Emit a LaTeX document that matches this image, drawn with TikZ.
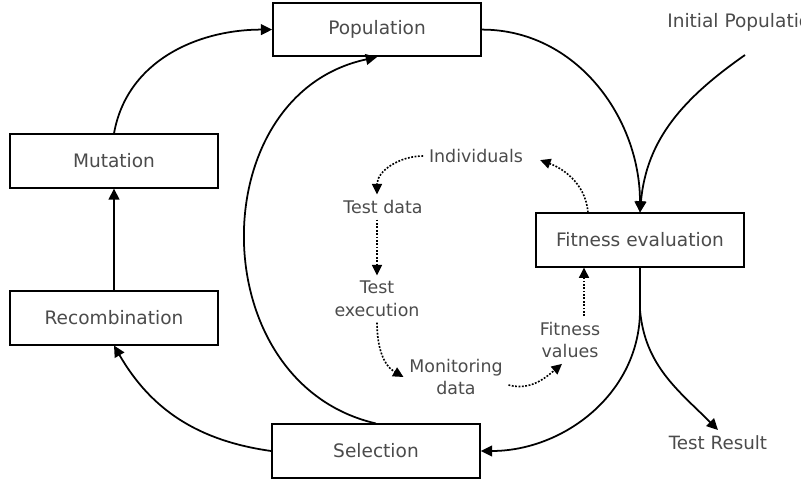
\documentclass[tikz,border=0pt]{standalone}
\usepackage{fontspec}
\setmainfont{DejaVu Sans}
\usetikzlibrary{positioning,arrows.meta}
\definecolor{gaText}{RGB}{75,75,75}

\begin{document}
\begin{tikzpicture}[
  stage/.style={draw=black, line width=1.3pt, fill=white,
                minimum width=5.2cm, minimum height=1.33cm,
                font=\fontsize{13.2}{15}\selectfont, text=gaText},
  info/.style={font=\fontsize{12.4}{16}\selectfont, text=gaText,
               align=center, inner sep=4pt},
  flow/.style={-{Triangle[length=2.8mm,width=2.7mm]}, line width=1.25pt},
  data/.style={-{Triangle[length=2.6mm,width=2.5mm]}, line width=1.15pt,
               dash pattern=on 1.3pt off 1.1pt}
]
\useasboundingbox (0,0) rectangle (20.025,12);
\node[stage] (Pop) at (9.425,11.26) {Population};
\node[stage] (Mut) at (2.85,7.975)  {Mutation};
\node[stage] (Rec) at (2.85,4.05)   {Recombination};
\node[stage] (Sel) at (9.4,0.725)   {Selection};
\node[stage] (Fit) at (16.0,6.0)    {Fitness evaluation};
\node[info] (Ind) at (11.9,8.1)     {Individuals};
\node[info] (TD)  at (9.575,6.825)  {Test data};
\node[info] (TE)  at (9.425,4.525)  {Test\\execution};
\node[info] (Mon) at (11.4,2.575)   {Monitoring\\data};
\node[info] (FV)  at (14.25,3.5)    {Fitness\\values};
\node[info, font=\fontsize{13.2}{15}\selectfont, anchor=west, inner sep=0pt]
  (Init) at (16.675,11.45) {Initial Population};
\node[info, font=\fontsize{13}{15}\selectfont] (Res) at (17.95,0.925) {Test Result};
\coordinate (start) at (18.625,10.625);
\coordinate (split) at (16.0,4.25);
\draw[flow] (Mut.north) to[out=80,in=180] (Pop.west);
\draw[flow] (Rec.north) -- (Mut.south);
\draw[flow] (Sel.west) to[out=172,in=-60] (Rec.south);
\draw[flow] (Sel.north) to[out=167,in=-168,looseness=1.25] (Pop.south);
\draw[flow] (Pop.east) to[out=0,in=90] (Fit.north);
\draw[flow] (start) to[out=-145,in=85] (Fit.north);
\draw[line width=1.25pt] (Fit.south) -- (split);
\draw[flow] (split) to[out=-90,in=0] (Sel.east);
\draw[flow] (split) to[out=-85,in=135] (Res.north);
\draw[data] (Ind.west) to[out=180,in=90] (TE.north |- TD.north);
\draw[data] (TE.north |- TD.south) -- (TE.north);
\draw[data] (TE.south) to[out=-90,in=150] (Mon.west);
\draw[data] ([yshift=-0.2cm]Mon.east) to[out=-15,in=-140] ([xshift=-0.2cm]FV.south);
\draw[data] ([xshift=0.35cm]FV.north) -- ([xshift=0.35cm]FV.north |- Fit.south);
\draw[data, shorten >=0.3cm] ([xshift=-1.3cm]Fit.north) to[out=95,in=-20] (Ind.east);
\end{tikzpicture}
\end{document}
